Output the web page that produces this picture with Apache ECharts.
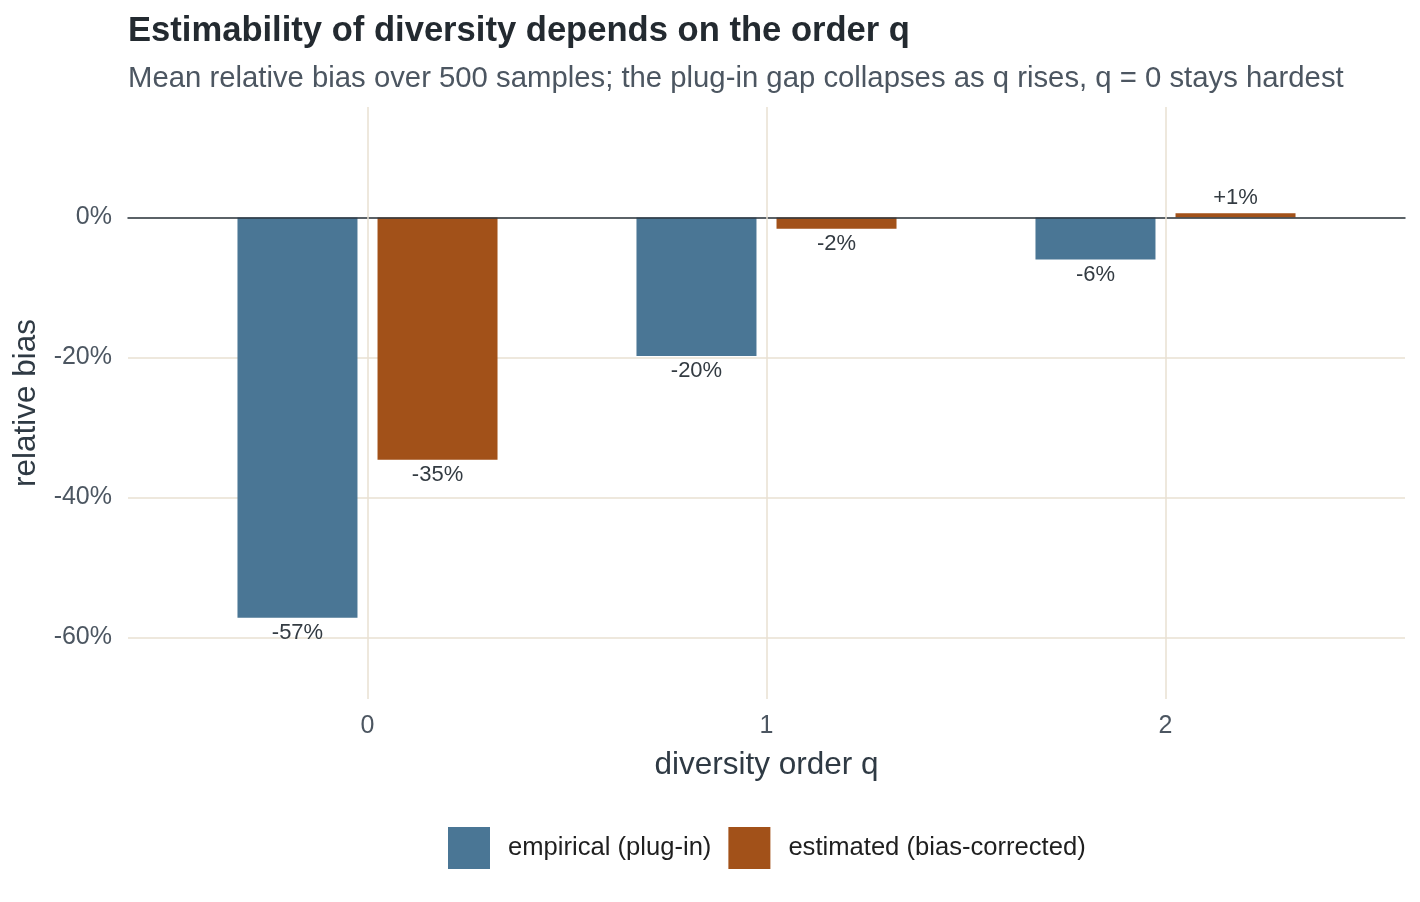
<!DOCTYPE html>
<html>
<head>
<meta charset="utf-8">
<title>Estimability of diversity</title>
<script src="https://cdn.jsdelivr.net/npm/echarts@6/dist/echarts.min.js"></script>
<style>
    html, body { margin: 0; padding: 0; background: #ffffff; }
    #chart { width: 1420px; height: 902px; }
</style>
</head>
<body>
<div id="chart"></div>
<script>
    // diversity order q
    const categories = ['0', '1', '2'];
    // mean relative bias
    const empirical = [-0.572, -0.198, -0.060];
    const estimated = [-0.346, -0.016, 0.006];
    const seriesNames = ['empirical (plug-in)', 'estimated (bias-corrected)'];

    const FONT = '"Liberation Sans", Arial, sans-serif';
    const yMin = -0.688;
    const yMax = 0.158;
    const gridLine = '#e8e0d2';

    function pct(v) {
        const n = (v * 100).toFixed(0);
        return (v > 0 ? '+' : '') + n + '%';
    }

    const barLabel = {
        show: true,
        position: 'outside',
        distance: 4,
        fontFamily: FONT,
        fontSize: 22,
        color: '#333b42',
        formatter: function (p) { return pct(p.value); }
    };

    const chart = echarts.init(document.getElementById('chart'), null, { renderer: 'canvas' });
    chart.setOption({
        animation: false,
        backgroundColor: '#ffffff',
        textStyle: { fontFamily: FONT },
        title: [{
            text: 'Estimability of diversity depends on the order q',
            left: 128,
            top: 14,
            padding: 0,
            textStyle: { fontFamily: FONT, fontSize: 34.6, fontWeight: 'bold', color: '#232a30' }
        }, {
            text: 'Mean relative bias over 500 samples; the plug-in gap collapses as q rises, q = 0 stays hardest',
            left: 128,
            top: 64,
            padding: 0,
            textStyle: { fontFamily: FONT, fontSize: 29.3, fontWeight: 'normal', color: '#4c5661' }
        }],
        legend: {
            data: seriesNames,
            left: 448,
            top: 827,
            padding: 0,
            icon: 'rect',
            itemWidth: 42,
            itemHeight: 42,
            itemGap: 17,
            textStyle: { fontFamily: FONT, fontSize: 25.6, color: '#1f1f1f', padding: [0, 0, 0, 13] }
        },
        grid: [
            // bars: band of each q is 399px wide
            { left: 168, right: 55, top: 107, bottom: 203 },
            // full panel for gridlines and the y axis
            { left: 128, right: 15, top: 107, bottom: 203 }
        ],
        xAxis: [{
            type: 'category',
            gridIndex: 0,
            data: categories,
            name: 'diversity order q',
            nameLocation: 'middle',
            nameGap: 50,
            nameTextStyle: { fontFamily: FONT, fontSize: 31.5, color: '#2f3a44' },
            axisLine: { show: false },
            axisTick: { show: false },
            splitLine: { show: false },
            axisLabel: { margin: 15, fontFamily: FONT, fontSize: 25, color: '#4c5661' }
        }, {
            type: 'value',
            gridIndex: 1,
            min: 0,
            max: 1,
            z: 3,
            axisLine: { show: true, onZero: true, lineStyle: { color: '#2b3640', width: 1.5 } },
            axisTick: { show: false },
            axisLabel: { show: false },
            splitLine: { show: false }
        }],
        yAxis: [{
            type: 'value',
            gridIndex: 0,
            min: yMin,
            max: yMax,
            show: false,
            splitLine: { show: false }
        }, {
            type: 'value',
            gridIndex: 1,
            min: yMin,
            max: yMax,
            name: 'relative bias',
            nameLocation: 'middle',
            nameGap: 81,
            nameRotate: 90,
            nameTextStyle: { fontFamily: FONT, fontSize: 31.5, color: '#2f3a44' },
            axisLine: { show: false },
            axisTick: { show: false },
            axisLabel: {
                margin: 16,
                fontFamily: FONT,
                fontSize: 25,
                color: '#4c5661',
                showMinLabel: false,
                showMaxLabel: false,
                formatter: function (v) { return Math.round(v * 100) + '%'; }
            },
            splitLine: {
                show: true,
                showMinLine: false,
                showMaxLine: false,
                lineStyle: { color: gridLine, width: 1.5 }
            }
        }],
        series: [{
            // vertical gridlines at each q, on the category centres
            name: 'q grid',
            type: 'line',
            xAxisIndex: 0,
            yAxisIndex: 0,
            data: [],
            silent: true,
            z: 1,
            markLine: {
                silent: true,
                symbol: 'none',
                label: { show: false },
                lineStyle: { color: gridLine, width: 1.5, type: 'solid' },
                data: categories.map(function (c) { return { xAxis: c }; })
            }
        }, {
            name: seriesNames[0],
            type: 'bar',
            xAxisIndex: 0,
            yAxisIndex: 0,
            data: empirical,
            barWidth: 120,
            barGap: '16.7%',
            itemStyle: { color: '#4a7695' },
            label: barLabel
        }, {
            name: seriesNames[1],
            type: 'bar',
            xAxisIndex: 0,
            yAxisIndex: 0,
            data: estimated,
            barWidth: 120,
            barGap: '16.7%',
            itemStyle: { color: '#a25119' },
            label: barLabel
        }]
    });
</script>
</body>
</html>
